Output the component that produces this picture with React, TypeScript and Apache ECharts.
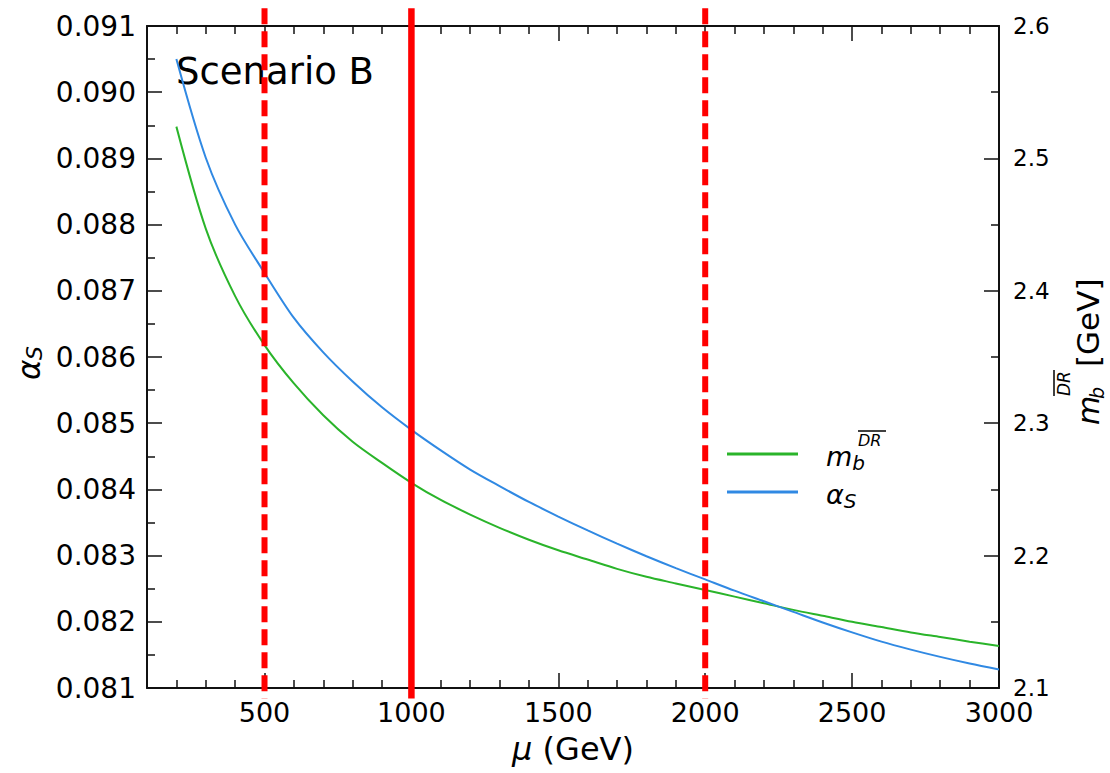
import React, { useEffect, useRef } from "react";
import * as echarts from "echarts";

const FONT = "'DejaVu Sans', 'Noto Sans', sans-serif";

// mu (GeV)
const mu = [
  200, 300, 400, 500, 600, 700, 800, 900, 1000, 1100, 1200, 1300, 1400, 1500,
  1600, 1700, 1800, 1900, 2000, 2100, 2200, 2300, 2400, 2500, 2600, 2700, 2800,
  2900, 3000,
];
// alpha_S (left axis)
const alphaS = [
  0.0905, 0.08901, 0.088, 0.08727, 0.08659, 0.08607, 0.08563, 0.08524, 0.0849,
  0.08459, 0.0843, 0.08405, 0.08381, 0.08359, 0.08338, 0.08318, 0.08299, 0.08281,
  0.08264, 0.08247, 0.08231, 0.08215, 0.08199, 0.08184, 0.0817, 0.08158,
  0.08147, 0.08137, 0.08128,
];
// m_b^DRbar in GeV (right axis)
const mbDR = [
  2.524, 2.447, 2.396, 2.359, 2.33, 2.306, 2.286, 2.27, 2.255, 2.242, 2.231,
  2.221, 2.212, 2.204, 2.197, 2.19, 2.184, 2.179, 2.174, 2.169, 2.164, 2.159,
  2.1545, 2.15, 2.146, 2.142, 2.1385, 2.135, 2.1317,
];
// reference scales
const refMu = [500, 1000, 2000];
const refSolid = [false, true, false];

const xMajorTicks = [500, 1000, 1500, 2000, 2500, 3000];
const xMinorTicks = [
  200, 300, 400, 600, 700, 800, 900, 1100, 1200, 1300, 1400, 1600, 1700, 1800,
  1900, 2100, 2200, 2300, 2400, 2600, 2700, 2800, 2900,
];

const X_MIN = 100;
const X_MAX = 3000;
const L_MIN = 0.081;
const L_MAX = 0.091;
const R_MIN = 2.1;
const R_MAX = 2.6;

const GREEN = "#2ab42a";
const BLUE = "#3089e3";
const RED = "#ff0000";

export default function App() {
  const ref = useRef<HTMLDivElement>(null);

  useEffect(() => {
    if (!ref.current) return;
    const chart = echarts.init(ref.current, undefined, { renderer: "svg" });

    const axisLine = { show: true, lineStyle: { color: "#111", width: 2 } };
    const tickStyle = { color: "#111", width: 1.5 };

    const xBase = {
      type: "value",
      min: X_MIN,
      max: X_MAX,
      splitLine: { show: false },
      gridIndex: 0,
    };

    const option: any = {
      animation: false,
      textStyle: { fontFamily: FONT },
      grid: { left: 147, right: 111, top: 26, bottom: 85, containLabel: false },
      xAxis: [
        {
          ...xBase,
          position: "bottom",
          axisLine,
          axisTick: {
            show: true,
            inside: true,
            length: 15,
            customValues: xMajorTicks,
            lineStyle: tickStyle,
          },
          axisLabel: {
            show: true,
            customValues: xMajorTicks,
            fontSize: 27,
            color: "#000",
            margin: 11,
            fontFamily: FONT,
            formatter: (v: number) => String(v),
          },
          name: "{mu|μ} (GeV)",
          nameLocation: "middle",
          nameGap: 45,
          nameTextStyle: {
            fontSize: 32,
            color: "#000",
            fontFamily: FONT,
            rich: {
              mu: { fontSize: 32, fontStyle: "italic", fontFamily: FONT, color: "#000" },
            },
          },
        },
        {
          ...xBase,
          position: "bottom",
          axisLine: { show: false },
          axisTick: {
            show: true,
            inside: true,
            length: 8,
            customValues: xMinorTicks,
            lineStyle: tickStyle,
          },
          axisLabel: { show: false },
        },
        {
          ...xBase,
          position: "top",
          axisLine,
          axisTick: {
            show: true,
            inside: true,
            length: 15,
            customValues: xMajorTicks,
            lineStyle: tickStyle,
          },
          axisLabel: { show: false },
        },
        {
          ...xBase,
          position: "top",
          axisLine: { show: false },
          axisTick: {
            show: true,
            inside: true,
            length: 8,
            customValues: xMinorTicks,
            lineStyle: tickStyle,
          },
          axisLabel: { show: false },
        },
      ],
      yAxis: [
        {
          type: "value",
          position: "left",
          min: L_MIN,
          max: L_MAX,
          interval: 0.001,
          splitLine: { show: false },
          axisLine,
          axisTick: { show: true, inside: true, length: 15, lineStyle: tickStyle },
          minorTick: { show: true, splitNumber: 2, length: 8, lineStyle: tickStyle },
          minorSplitLine: { show: false },
          axisLabel: {
            fontSize: 28,
            color: "#000",
            margin: 11,
            fontFamily: FONT,
            formatter: (v: number) => v.toFixed(3),
          },
        },
        {
          type: "value",
          position: "right",
          min: R_MIN,
          max: R_MAX,
          interval: 0.1,
          splitLine: { show: false },
          axisLine,
          axisTick: { show: true, inside: true, length: 15, lineStyle: tickStyle },
          minorTick: { show: true, splitNumber: 2, length: 8, lineStyle: tickStyle },
          minorSplitLine: { show: false },
          axisLabel: {
            fontSize: 23,
            color: "#000",
            margin: 14,
            fontFamily: FONT,
            formatter: (v: number) => v.toFixed(1),
          },
        },
      ],
      legend: {
        data: ["mb", "alphaS"],
        orient: "vertical",
        left: 722,
        top: 434,
        itemWidth: 71,
        itemHeight: 3,
        icon: "rect",
        itemGap: 4,
        selectedMode: false,
        formatter: (n: string) => (n === "mb" ? "{m|m}{b|b}" : "{a|α}{s|S}"),
        textStyle: {
          fontFamily: FONT,
          color: "#000",
          padding: [0, 0, 0, 23],
          rich: {
            m: { fontSize: 27, fontStyle: "italic", fontFamily: FONT, lineHeight: 30, verticalAlign: "top", padding: [4, 0, 0, 0] },
            b: { fontSize: 20, fontStyle: "italic", fontFamily: FONT, lineHeight: 20, verticalAlign: "top", padding: [14, 0, 0, 0] },
            a: { fontSize: 27, fontStyle: "italic", fontFamily: FONT, lineHeight: 30, verticalAlign: "top", padding: [4, 0, 0, 0] },
            s: { fontSize: 20, fontStyle: "italic", fontFamily: FONT, lineHeight: 20, verticalAlign: "top", padding: [14, 0, 0, 0] },
          },
        },
      },
      graphic: [
        {
          type: "text",
          x: 176,
          y: 71,
          style: {
            text: "Scenario B",
            fontSize: 37,
            fontFamily: FONT,
            fill: "#000",
            align: "left",
            verticalAlign: "middle",
          },
        },
        // left axis title alpha_S
        {
          type: "group",
          x: 29,
          y: 380,
          rotation: Math.PI / 2,
          children: [
            {
              type: "text",
              x: 0,
              y: 0,
              style: { text: "α", fontSize: 31, fontStyle: "italic", fontFamily: FONT, fill: "#000", align: "left", verticalAlign: "middle" },
            },
            {
              type: "text",
              x: 20,
              y: 5,
              style: { text: "S", fontSize: 22, fontStyle: "italic", fontFamily: FONT, fill: "#000", align: "left", verticalAlign: "middle" },
            },
          ],
        },
        // right axis title m_b^{DR-bar} [GeV]
        {
          type: "group",
          x: 1088,
          y: 425,
          rotation: Math.PI / 2,
          children: [
            {
              type: "text",
              x: 0,
              y: 0,
              style: { text: "m", fontSize: 30, fontStyle: "italic", fontFamily: FONT, fill: "#000", align: "left", verticalAlign: "middle" },
            },
            {
              type: "text",
              x: 26,
              y: 9,
              style: { text: "b", fontSize: 19, fontStyle: "italic", fontFamily: FONT, fill: "#000", align: "left", verticalAlign: "middle" },
            },
            {
              type: "text",
              x: 29,
              y: -24,
              style: { text: "DR", fontSize: 17, fontStyle: "italic", fontFamily: FONT, fill: "#000", align: "left", verticalAlign: "middle" },
            },
            {
              type: "line",
              shape: { x1: 29, y1: -34, x2: 55, y2: -34 },
              style: { stroke: "#000", lineWidth: 1.5 },
            },
            {
              type: "text",
              x: 58,
              y: 0,
              style: { text: "[GeV]", fontSize: 31, fontFamily: FONT, fill: "#000", align: "left", verticalAlign: "middle" },
            },
          ],
        },
        // legend superscript DR-bar
        {
          type: "text",
          x: 858,
          y: 440,
          style: { text: "DR", fontSize: 16, fontStyle: "italic", fontFamily: FONT, fill: "#000", align: "left", verticalAlign: "middle" },
        },
        {
          type: "line",
          shape: { x1: 858, y1: 431, x2: 886, y2: 431 },
          style: { stroke: "#000", lineWidth: 1.5 },
        },
      ],
      series: [
        {
          name: "mb",
          type: "line",
          xAxisIndex: 0,
          yAxisIndex: 1,
          data: mu.map((m, i) => [m, mbDR[i]]),
          showSymbol: false,
          symbol: "none",
          smooth: 0.3,
          lineStyle: { color: GREEN, width: 2 },
          itemStyle: { color: GREEN },
          z: 3,
        },
        {
          name: "alphaS",
          type: "line",
          xAxisIndex: 0,
          yAxisIndex: 0,
          data: mu.map((m, i) => [m, alphaS[i]]),
          showSymbol: false,
          symbol: "none",
          smooth: 0.3,
          lineStyle: { color: BLUE, width: 2 },
          itemStyle: { color: BLUE },
          z: 3,
        },
        ...refMu.map((m, i) => ({
          name: "ref" + m,
          type: "line",
          xAxisIndex: 0,
          yAxisIndex: 0,
          data: [
            [m, L_MAX + 0.00027],
            [m, L_MIN - 0.00016],
          ],
          clip: false,
          showSymbol: false,
          symbol: "none",
          silent: true,
          lineStyle: {
            color: RED,
            width: refSolid[i] ? 6.5 : 6,
            type: refSolid[i] ? "solid" : [16, 7],
            cap: "butt",
          },
          itemStyle: { color: RED },
          z: 5,
        })),
      ],
    };

    chart.setOption(option);
    return () => chart.dispose();
  }, []);

  return (
    <div
      ref={ref}
      style={{ position: "fixed", left: 0, top: 0, width: 1110, height: 773, background: "#fff" }}
    />
  );
}
